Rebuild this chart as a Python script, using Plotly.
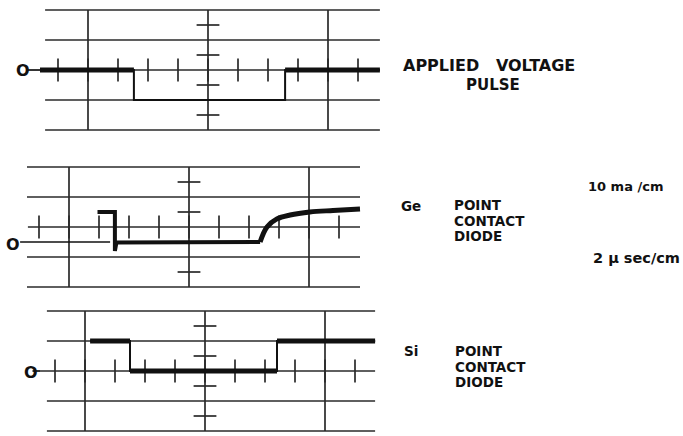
import plotly.graph_objects as go

W, H = 683, 436
UNIT = 30.0  # pixels per graticule division (layout only)

# ---------------- data (graticule divisions) ----------------
# Applied voltage pulse
pulse_t = [-5.6, -2.47, -2.47, 2.57, 2.57, 5.73]
pulse_v = [0, 0, -1, -1, 0, 0]

# Ge point contact diode current (10 ma/cm), zero-current level = 0
ge_zero_t = [-5.63, -2.63]
ge_zero_i = [0, 0]
ge_step_t = [-3.05, -2.47, -2.47, -2.42, 2.37]
ge_step_i = [1.0, 1.0, -0.3, -0.02, 0.0]
ge_rec_t = [2.37, 2.6, 2.93, 3.37, 4.03, 4.8, 5.7]
ge_rec_i = [0.0, 0.5, 0.77, 0.9, 1.0, 1.05, 1.1]

# Si point contact diode current
si_t = [-3.83, -2.5, -2.5, 2.4, 2.4, 5.67]
si_i = [1, 1, 0, 0, 1, 1]

# graticule
grid_h_levels = [-2, -1, 0, 1, 2]
grid_v_pos = [-4, 0, 4]
axis_x_ticks = [-5, -4, -3, -2, -1, 0, 1, 2, 3, 4, 5]
axis_y_ticks = [-1.5, -0.5, 0.5, 1.5]

# ---------------- layout geometry ----------------
panels = [
    dict(cx=208, cy=70, goff=0.0, box=(0, 400, 0, 150), gx=(-5.43, 5.73), cl=-5.45, lab=(22.5, 70), dash=(-6.0, -5.6)),
    dict(cx=189, cy=242, goff=0.5, box=(0, 400, 150, 300), gx=(-5.4, 5.7), cl=-5.37, lab=(13, 244), dash=None),
    dict(cx=205, cy=371, goff=0.0, box=(0, 400, 300, 436), gx=(-5.27, 5.67), cl=-5.5, lab=(30.5, 372), dash=(-5.75, -5.5)),
]

fig = go.Figure()
shapes = []
GRID = "#2a2a2a"
INK = "#111111"

for k, p in enumerate(panels, start=1):
    x0, x1, y0, y1 = p["box"]
    xa = "xaxis" if k == 1 else f"xaxis{k}"
    ya = "yaxis" if k == 1 else f"yaxis{k}"
    xr = "x" if k == 1 else f"x{k}"
    yr = "y" if k == 1 else f"y{k}"
    fig.update_layout({
        xa: dict(domain=[x0 / W, x1 / W], range=[(x0 - p["cx"]) / UNIT, (x1 - p["cx"]) / UNIT],
                 visible=False, fixedrange=True, anchor=yr),
        ya: dict(domain=[1 - y1 / H, 1 - y0 / H], range=[(p["cy"] - y1) / UNIT, (p["cy"] - y0) / UNIT],
                 visible=False, fixedrange=True, anchor=xr),
    })
    g = p["goff"]
    gl, gr = p["gx"]
    for lv in grid_h_levels:
        left = p["cl"] if lv == 0 else gl
        shapes.append(dict(type="line", xref=xr, yref=yr, x0=left, x1=gr, y0=lv + g, y1=lv + g,
                           line=dict(color=GRID, width=1.7), layer="below"))
    for xv in grid_v_pos:
        shapes.append(dict(type="line", xref=xr, yref=yr, x0=xv, x1=xv,
                           y0=min(grid_h_levels) + g, y1=max(grid_h_levels) + g,
                           line=dict(color=GRID, width=1.7), layer="below"))
    for xv in axis_x_ticks:
        shapes.append(dict(type="line", xref=xr, yref=yr, x0=xv, x1=xv, y0=g - 0.38, y1=g + 0.38,
                           line=dict(color=GRID, width=1.7), layer="below"))
    for yv in axis_y_ticks:
        shapes.append(dict(type="line", xref=xr, yref=yr, x0=-0.38, x1=0.38, y0=yv + g, y1=yv + g,
                           line=dict(color=GRID, width=1.7), layer="below"))
    if p["dash"]:
        shapes.append(dict(type="line", xref=xr, yref=yr, x0=p["dash"][0], x1=p["dash"][1], y0=0, y1=0,
                           line=dict(color=INK, width=1.7)))
    fig.add_annotation(x=p["lab"][0] / W, y=1 - p["lab"][1] / H, xref="paper", yref="paper",
                       text="O", showarrow=False, xanchor="center", yanchor="middle",
                       font=dict(family="DejaVu Sans", size=16, color=INK, weight="bold"))


def flat_segments(t, v):
    xs, ys = [], []
    for i in range(len(t) - 1):
        if v[i] == v[i + 1]:
            xs += [t[i], t[i + 1], None]
            ys += [v[i], v[i + 1], None]
    return xs, ys


def line(x, y, k, width, shape="linear"):
    fig.add_trace(go.Scatter(x=x, y=y, mode="lines", xaxis="x" if k == 1 else f"x{k}",
                             yaxis="y" if k == 1 else f"y{k}", hoverinfo="skip", showlegend=False,
                             line=dict(color=INK, width=width, shape=shape), connectgaps=False))


# Applied pulse: thin trace, heavy at the zero-voltage sections
line(pulse_t, pulse_v, 1, 2)
fx, fy = flat_segments(pulse_t, pulse_v)
line(fx[:3], fy[:3], 1, 5)
line(fx[6:9], fy[6:9], 1, 5)

# Ge
line(ge_zero_t, ge_zero_i, 2, 1.7)
line(ge_step_t, ge_step_i, 2, 4)
line(ge_rec_t, ge_rec_i, 2, 5, shape="spline")

# Si
line(si_t, si_i, 3, 2)
sx, sy = flat_segments(si_t, si_i)
line(sx, sy, 3, 5)

# ---------------- text ----------------
FONT = "DejaVu Sans"


def txt(s, px, py, size, anchor="left"):
    fig.add_annotation(x=px / W, y=1 - py / H, xref="paper", yref="paper", text=s, showarrow=False,
                       xanchor=anchor, yanchor="middle",
                       font=dict(family=FONT, size=size, color=INK, weight="bold"))


txt("APPLIED\u00a0\u00a0\u00a0VOLTAGE", 401, 66, 16)
txt("PULSE", 464, 84.8, 15)
txt("Ge", 399, 206, 13.5)
txt("POINT", 452, 205, 13.5)
txt("CONTACT", 452, 220.7, 13.5)
txt("DIODE", 452, 236.4, 13.5)
txt("Si", 402, 351, 13.5)
txt("POINT", 453, 351, 13.5)
txt("CONTACT", 453, 366.7, 13.5)
txt("DIODE", 453, 382.4, 13.5)
txt("10 ma /cm", 586, 186, 13)
txt("2 \u03bc sec/cm", 591, 258, 14.5)

fig.update_layout(width=W, height=H, margin=dict(l=0, r=0, t=0, b=0),
                  paper_bgcolor="white", plot_bgcolor="rgba(0,0,0,0)", shapes=shapes)

fig.write_html("out.html", config={"displayModeBar": False},
               post_script="document.body.style.margin='0';")
